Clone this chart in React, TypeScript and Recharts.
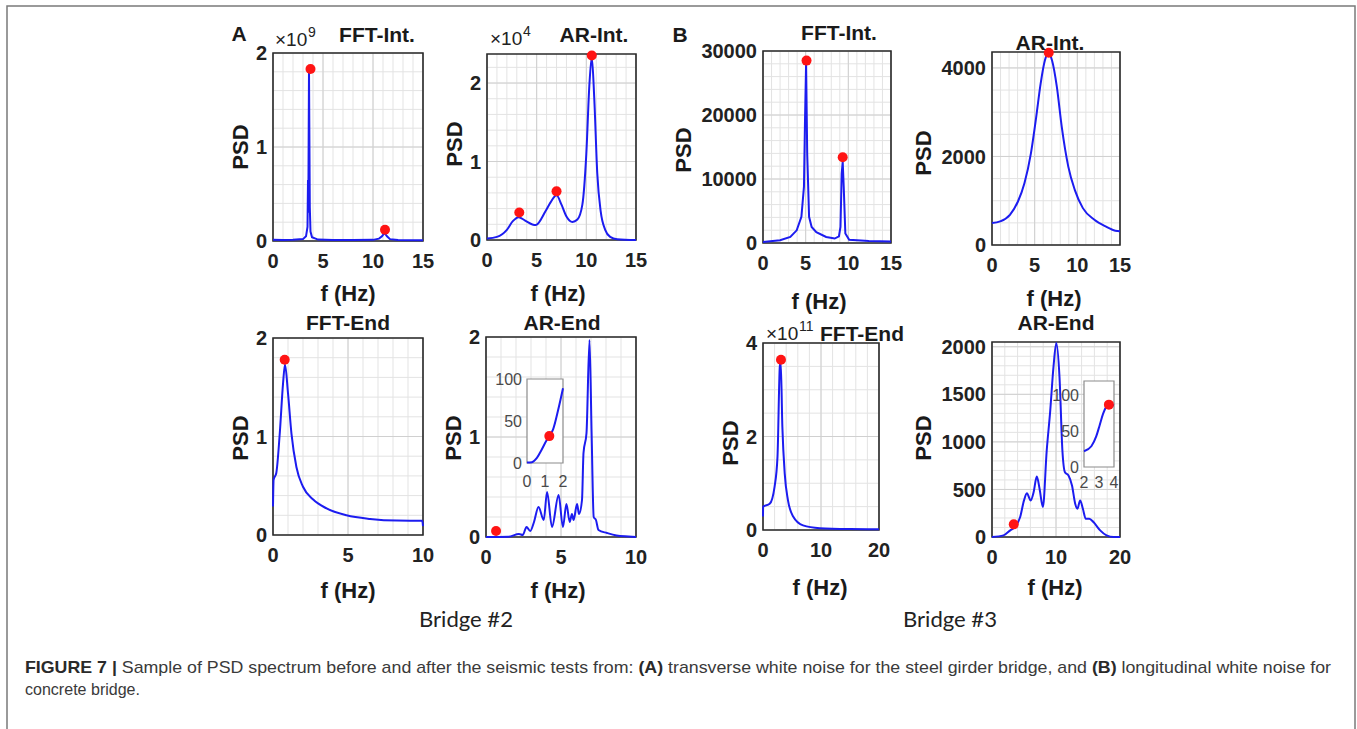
import { CartesianGrid, ComposedChart, Line, ReferenceArea, Scatter, XAxis, YAxis } from 'recharts';

const FONT = "'Liberation Sans', Arial, Helvetica, sans-serif";

// ---- Bridge #2 (A) ----
// FFT-Int. (x10^9)
const aFftIntF = [0, 1, 2, 3, 3.3, 3.45, 3.5, 3.53, 3.6, 3.68, 3.75, 3.9, 4.5, 6, 8, 10, 10.6, 10.9, 11.15, 11.4, 11.7, 12.5, 15];
const aFftIntP = [0.012, 0.01, 0.012, 0.02, 0.05, 0.15, 0.65, 0.3, 1.82, 0.36, 0.1, 0.04, 0.015, 0.01, 0.01, 0.012, 0.025, 0.05, 0.085, 0.05, 0.02, 0.01, 0.008];
const aFftIntPeakF = [3.75, 11.2];
const aFftIntPeakP = [1.83, 0.12];

// AR-Int. (x10^4)
const aArIntF = [0, 1, 2, 2.6, 3.2, 3.8, 4.9, 5.9, 6.4, 7.0, 7.5, 8.0, 8.6, 9.1, 9.6, 10.0, 10.3, 10.55, 10.8, 11.1, 11.45, 11.9, 12.4, 13.1, 15];
const aArIntP = [0.02, 0.04, 0.13, 0.24, 0.29, 0.25, 0.19, 0.37, 0.48, 0.57, 0.45, 0.3, 0.23, 0.26, 0.45, 1.1, 1.96, 2.33, 1.8, 0.85, 0.36, 0.13, 0.04, 0.01, 0];
const aArIntPeakF = [3.25, 7.0, 10.55];
const aArIntPeakP = [0.35, 0.62, 2.35];

// FFT-End
const aFftEndF = [0, 0.04, 0.22, 0.45, 0.67, 0.8, 1.0, 1.23, 1.56, 2.0, 2.68, 3.57, 4.9, 6.47, 8.26, 9.95, 10];
const aFftEndP = [0.29, 0.56, 0.63, 1.03, 1.54, 1.73, 1.44, 1.03, 0.69, 0.49, 0.36, 0.27, 0.2, 0.163, 0.146, 0.145, 0.09];
const aFftEndPeakF = [0.78];
const aFftEndPeakP = [1.78];

// AR-End
const aArEndF = [0, 1.5, 2.2, 2.45, 2.7, 2.95, 3.2, 3.5, 3.85, 4.07, 4.4, 4.84, 5.13, 5.36, 5.58, 5.73, 5.84, 6.07, 6.2, 6.4, 6.5, 6.7, 6.9, 7.04, 7.18, 7.33, 7.5, 8.07, 8.7, 9.5, 10];
const aArEndP = [0, 0.003, 0.03, 0.02, 0.1, 0.06, 0.15, 0.3, 0.17, 0.45, 0.1, 0.42, 0.1, 0.33, 0.15, 0.23, 0.17, 0.33, 0.23, 0.37, 0.84, 1.04, 1.97, 1.04, 0.2, 0.17, 0.07, 0.04, 0.015, 0.005, 0];
const aArEndPeakF = [0.67];
const aArEndPeakP = [0.06];
// AR-End inset
const aInsetF = [0, 0.27, 0.55, 0.82, 1.09, 1.24, 1.45, 1.73, 2.0];
const aInsetP = [0.5, 1, 6, 16, 27, 32, 40, 63, 89];
const aInsetPeakF = [1.24];
const aInsetPeakP = [32];

// ---- Bridge #3 (B) ----
// FFT-Int.
const bFftIntF = [0, 2, 3.2, 3.95, 4.5, 4.8, 4.92, 5.05, 5.18, 5.4, 5.7, 6.25, 7.4, 8.4, 8.9, 9.08, 9.22, 9.34, 9.46, 9.65, 10.1, 12.4, 15];
const bFftIntP = [160, 420, 940, 1980, 4100, 8800, 19000, 28100, 14000, 4100, 2500, 1700, 950, 700, 1050, 2500, 10800, 12700, 8800, 1500, 520, 310, 250];
const bFftIntPeakF = [5.1, 9.34];
const bFftIntPeakP = [28500, 13400];

// AR-Int.
const bArIntF = [0, 0.95, 2.1, 3.04, 3.8, 4.56, 5.13, 5.7, 6.2, 6.6, 7.03, 7.6, 8.17, 8.94, 9.7, 10.65, 12, 13.3, 14.45, 15];
const bArIntP = [495, 533, 683, 983, 1396, 2071, 2822, 3647, 4173, 4340, 4173, 3572, 2672, 1771, 1246, 833, 570, 420, 323, 310];
const bArIntPeakF = [6.65];
const bArIntPeakP = [4345];

// FFT-End (x10^11)
const bFftEndF = [0, 0.02, 1.15, 2.0, 2.5, 2.9, 3.05, 3.34, 3.75, 4.3, 5.2, 6.9, 9.8, 15, 20];
const bFftEndP = [0.29, 0.5, 0.56, 0.93, 1.57, 3.5, 3.6, 2.2, 1.2, 0.64, 0.29, 0.1, 0.04, 0.02, 0.015];
const bFftEndPeakF = [3.1];
const bFftEndPeakP = [3.64];

// AR-End
const bArEndF = [0, 1.8, 2.85, 3.6, 4.4, 5.0, 5.45, 6.05, 6.5, 7.0, 7.45, 7.95, 8.55, 9.1, 9.6, 10.05, 10.55, 11.0, 11.4, 11.95, 12.5, 13.0, 13.35, 13.77, 14.2, 14.65, 15.2, 15.85, 16.9, 17.9, 19, 20];
const bArEndP = [0, 17, 70, 105, 210, 385, 460, 385, 470, 635, 500, 315, 909, 1329, 1783, 2040, 1678, 909, 680, 647, 542, 350, 297, 385, 297, 192, 192, 157, 70, 17, 0, 0];
const bArEndPeakF = [3.4];
const bArEndPeakP = [133];
// AR-End inset
const bInsetF = [2, 2.49, 2.82, 3.04, 3.27, 3.5, 3.78, 4.0];
const bInsetP = [22, 29, 43, 58, 74, 84, 87, 86];
const bInsetPeakF = [3.66];
const bInsetPeakP = [87];

// tick labels
const ticks0to15 = [0, 5, 10, 15];
const ticks0to10 = [0, 5, 10];
const ticks0to20 = [0, 10, 20];
const ticks0to2 = [0, 1, 2];
const ticksB1 = [0, 10000, 20000, 30000];
const ticksB2 = [0, 2000, 4000];
const ticksB3 = [0, 2, 4];
const ticksB4 = [0, 500, 1000, 1500, 2000];
const ticksInsetA = [0, 1, 2];
const ticksInsetB = [2, 3, 4];
const ticksInsetY = [0, 50, 100];

const steps = (lo: number, hi: number, st: number) =>
  Array.from({ length: Math.floor((hi - lo) / st + 1e-6) + 1 }, (_, i) => +(lo + i * st).toFixed(6));

const ML = 90;
const MT = 12;
const MR = 30;
const MB = 50;

const RedDot = (props: any) => <circle cx={props.cx} cy={props.cy} r={5} fill="#ff1414" />;

interface PanelProps {
  box: [number, number, number, number];
  f: number[];
  p: number[];
  peakF: number[];
  peakP: number[];
  xDomain: [number, number];
  yDomain: [number, number];
  xTicks: number[];
  yTicks: number[];
  xStep?: number;
  yStep?: number;
  curve?: 'linear' | 'monotone';
  inset?: boolean;
  xMargin?: number;
}

const Panel = ({ box, f, p, peakF, peakP, xDomain, yDomain, xTicks, yTicks, xStep = 1, yStep = 1, curve = 'monotone', inset = false, xMargin = 13 }: PanelProps) => {
  const [x0, y0, x1, y1] = box;
  const w = x1 - x0;
  const h = y1 - y0;
  const line = f.map((v, i) => ({ f: v, p: p[i] }));
  const peaks = peakF.map((v, i) => ({ f: v, p: peakP[i] }));
  const tickStyle = inset
    ? { fill: '#4a4a4a', fontSize: 16, fontFamily: FONT }
    : { fill: '#222', fontSize: 20, fontWeight: 700, fontFamily: FONT };
  return (
    <>
      {inset && <div style={{ position: 'absolute', left: x0, top: y0, width: w, height: h, background: '#fff' }} />}
      <div style={{ position: 'absolute', left: x0 - ML, top: y0 - MT }}>
        <ComposedChart width={w + ML + MR} height={h + MT + MB} margin={{ top: MT, right: MR, bottom: 0, left: 0 }}>
          {!inset && (
            <CartesianGrid
              horizontalValues={steps(yDomain[0], yDomain[1], yStep)}
              verticalValues={steps(xDomain[0], xDomain[1], xStep)}
              stroke="#e3e3e3"
            />
          )}
          {!inset && <CartesianGrid horizontalValues={yTicks} verticalValues={xTicks} stroke="#d0d0d0" />}
          <XAxis
            type="number"
            dataKey="f"
            domain={xDomain}
            ticks={xTicks}
            interval={0}
            height={MB}
            axisLine={false}
            tickLine={false}
            tickSize={0}
            tickMargin={xMargin}
            tick={tickStyle}
          />
          <YAxis
            type="number"
            dataKey="p"
            domain={yDomain}
            ticks={yTicks}
            interval={0}
            width={ML}
            axisLine={false}
            tickLine={false}
            tickSize={0}
            tickMargin={inset ? 5 : 6}
            tick={tickStyle}
          />
          <Line data={line} dataKey="p" type={curve} stroke="#1c1cf0" strokeWidth={2} dot={false} isAnimationActive={false} />
          <ReferenceArea
            x1={xDomain[0]}
            x2={xDomain[1]}
            y1={yDomain[0]}
            y2={yDomain[1]}
            fill="none"
            fillOpacity={0}
            stroke={inset ? '#8c8c8c' : '#2a2a2a'}
            strokeWidth={inset ? 1.2 : 1.6}
          />
          <Scatter data={peaks} dataKey="p" shape={RedDot} isAnimationActive={false} />
        </ComposedChart>
      </div>
    </>
  );
};

const BOLD = { fontFamily: FONT, fontWeight: 700, fill: '#1a1a1a' } as const;

const Title = ({ x, y, children, anchor = 'middle' }: { x: number; y: number; children: string; anchor?: 'middle' | 'start' }) => (
  <text x={x} y={y} textAnchor={anchor} fontSize={21} {...BOLD}>{children}</text>
);

const FLabel = ({ x, y }: { x: number; y: number }) => (
  <text x={x} y={y} textAnchor="middle" fontSize={22} {...BOLD}>f (Hz)</text>
);

const PsdLabel = ({ x, y }: { x: number; y: number }) => (
  <text x={x} y={y + 8} textAnchor="middle" fontSize={22} transform={`rotate(-90 ${x} ${y})`} {...BOLD}>PSD</text>
);

const Expo = ({ x, y, exp }: { x: number; y: number; exp: string }) => (
  <>
    <text x={x} y={y} fontSize={19} fontFamily={FONT} fill="#222">×10</text>
    <text x={x + 33} y={y - 9} fontSize={14} fontFamily={FONT} fill="#222">{exp}</text>
  </>
);

export default function App() {
  return (
    <div style={{ position: 'absolute', left: 0, top: 0, width: 1357, height: 729, background: '#fff', overflow: 'hidden' }}>
      {/* Bridge #2 */}
      <Panel box={[273, 53, 423, 241]} f={aFftIntF} p={aFftIntP} peakF={aFftIntPeakF} peakP={aFftIntPeakP}
        xDomain={[0, 15]} yDomain={[0, 2]} xTicks={ticks0to15} yTicks={ticks0to2} xStep={1} yStep={0.2} curve="linear" />
      <Panel box={[487, 54, 636, 240]} f={aArIntF} p={aArIntP} peakF={aArIntPeakF} peakP={aArIntPeakP}
        xDomain={[0, 15]} yDomain={[0, 2.37]} xTicks={ticks0to15} yTicks={ticks0to2} xStep={1} yStep={0.2} />
      <Panel box={[273, 338, 423, 535]} f={aFftEndF} p={aFftEndP} peakF={aFftEndPeakF} peakP={aFftEndPeakP}
        xDomain={[0, 10]} yDomain={[0, 2]} xTicks={ticks0to10} yTicks={ticks0to2} xStep={1} yStep={0.2} />
      <Panel box={[486, 337, 636, 537]} f={aArEndF} p={aArEndP} peakF={aArEndPeakF} peakP={aArEndPeakP}
        xDomain={[0, 10]} yDomain={[0, 2]} xTicks={ticks0to10} yTicks={ticks0to2} xStep={1} yStep={0.2} />
      <Panel box={[527, 379, 563, 463]} f={aInsetF} p={aInsetP} peakF={aInsetPeakF} peakP={aInsetPeakP}
        xDomain={[0, 2]} yDomain={[0, 100]} xTicks={ticksInsetA} yTicks={ticksInsetY} inset xMargin={13} />

      {/* Bridge #3 */}
      <Panel box={[763, 51, 891, 243]} f={bFftIntF} p={bFftIntP} peakF={bFftIntPeakF} peakP={bFftIntPeakP}
        xDomain={[0, 15]} yDomain={[0, 30000]} xTicks={ticks0to15} yTicks={ticksB1} xStep={1} yStep={2000} curve="linear" />
      <Panel box={[992, 52, 1120, 245]} f={bArIntF} p={bArIntP} peakF={bArIntPeakF} peakP={bArIntPeakP}
        xDomain={[0, 15]} yDomain={[0, 4360]} xTicks={ticks0to15} yTicks={ticksB2} xStep={1} yStep={500} />
      <Panel box={[763, 343, 879, 530]} f={bFftEndF} p={bFftEndP} peakF={bFftEndPeakF} peakP={bFftEndPeakP}
        xDomain={[0, 20]} yDomain={[0, 4]} xTicks={ticks0to20} yTicks={ticksB3} xStep={2} yStep={0.5} />
      <Panel box={[992, 342, 1120, 537]} f={bArEndF} p={bArEndP} peakF={bArEndPeakF} peakP={bArEndPeakP}
        xDomain={[0, 20]} yDomain={[0, 2050]} xTicks={ticks0to20} yTicks={ticksB4} xStep={2} yStep={100} />
      <Panel box={[1084, 381, 1114, 467]} f={bInsetF} p={bInsetP} peakF={bInsetPeakF} peakP={bInsetPeakP}
        xDomain={[2, 4]} yDomain={[0, 120]} xTicks={ticksInsetB} yTicks={ticksInsetY} inset xMargin={10} />

      <svg width={1357} height={729} style={{ position: 'absolute', left: 0, top: 0, pointerEvents: 'none' }}>
        <rect x={7} y={6} width={1348} height={760} fill="none" stroke="#7a7a7a" strokeWidth={1.5} />

        <text x={239} y={41} textAnchor="middle" fontSize={21} {...BOLD}>A</text>
        <text x={680} y={42} textAnchor="middle" fontSize={21} {...BOLD}>B</text>

        <Expo x={275} y={46} exp="9" />
        <Expo x={490} y={45} exp="4" />
        <Expo x={766} y={340} exp="11" />

        <Title x={377} y={42}>FFT-Int.</Title>
        <Title x={594} y={42}>AR-Int.</Title>
        <Title x={839} y={40}>FFT-Int.</Title>
        <Title x={1050} y={50}>AR-Int.</Title>
        <Title x={348} y={330}>FFT-End</Title>
        <Title x={562} y={330}>AR-End</Title>
        <Title x={820} y={341} anchor="start">FFT-End</Title>
        <Title x={1056} y={330}>AR-End</Title>

        <PsdLabel x={240} y={147} />
        <PsdLabel x={454} y={144} />
        <PsdLabel x={683} y={150} />
        <PsdLabel x={923} y={153} />
        <PsdLabel x={240} y={438} />
        <PsdLabel x={453} y={438} />
        <PsdLabel x={730} y={443} />
        <PsdLabel x={923} y={438} />

        <FLabel x={348} y={301} />
        <FLabel x={558} y={301} />
        <FLabel x={819} y={309} />
        <FLabel x={1054} y={306} />
        <FLabel x={348} y={598} />
        <FLabel x={558} y={598} />
        <FLabel x={820} y={595} />
        <FLabel x={1055} y={595} />

        <text x={466} y={627} textAnchor="middle" fontSize={21} fontFamily="Lato, 'Open Sans', sans-serif" fill="#222" textLength={94} lengthAdjust="spacingAndGlyphs">Bridge #2</text>
        <text x={950} y={627} textAnchor="middle" fontSize={21} fontFamily="Lato, 'Open Sans', sans-serif" fill="#222" textLength={94} lengthAdjust="spacingAndGlyphs">Bridge #3</text>

        <text x={25} y={673} fontSize={17} fontFamily="'Liberation Sans Narrow', 'Liberation Sans', Arial, sans-serif" fill="#3a3a3a" textLength={1306} lengthAdjust="spacingAndGlyphs">
          <tspan fontWeight={700} fill="#2a2a2a">FIGURE 7 | </tspan>
          Sample of PSD spectrum before and after the seismic tests from: <tspan fontWeight={700} fill="#2a2a2a">(A)</tspan> transverse white noise for the steel girder bridge, and <tspan fontWeight={700} fill="#2a2a2a">(B)</tspan> longitudinal white noise for
        </text>
        <text x={25} y={695} fontSize={17} fontFamily="'Liberation Sans Narrow', 'Liberation Sans', Arial, sans-serif" fill="#3a3a3a" textLength={115} lengthAdjust="spacingAndGlyphs">concrete bridge.</text>
      </svg>
    </div>
  );
}
